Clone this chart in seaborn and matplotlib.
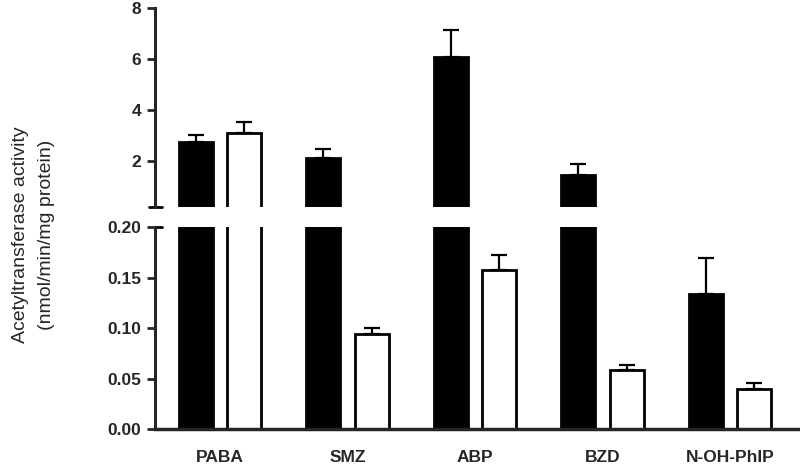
import matplotlib
matplotlib.use("Agg")
import matplotlib.pyplot as plt
import seaborn as sns
import pandas as pd

substrates = ["PABA", "SMZ", "ABP", "BZD", "N-OH-PhIP"]
filled_mean = [2.75, 2.12, 6.08, 1.45, 0.134]
filled_err = [0.27, 0.35, 1.06, 0.43, 0.035]
open_mean = [3.10, 0.094, 0.157, 0.058, 0.040]
open_err = [0.43, 0.006, 0.015, 0.005, 0.006]

df = pd.DataFrame({
    "substrate": substrates * 2,
    "group": ["filled"] * 5 + ["open"] * 5,
    "activity": filled_mean + open_mean,
    "err": filled_err + open_err,
})

sns.set_style("ticks")
plt.rcParams["font.family"] = ["Liberation Sans", "DejaVu Sans"]

fig = plt.figure(figsize=(8, 4.7), dpi=100)
ax_top = fig.add_axes([0.194, 0.5596, 0.806, 0.4234])
ax_bot = fig.add_axes([0.194, 0.0872, 0.806, 0.4298], sharex=ax_top)
ax_top.set_ylim(0.2, 8)
ax_bot.set_ylim(0, 0.2)

palette = {"filled": "black", "open": "white"}
for ax in (ax_top, ax_bot):
    lo, hi = ax.get_ylim()
    sns.barplot(data=df, x="substrate", y="activity", hue="group",
                palette=palette, order=substrates, hue_order=["filled", "open"],
                width=0.76, gap=0.3, errorbar=None, edgecolor="black",
                linewidth=2, legend=False, ax=ax)
    # upper error bars only, drawn on the panel that holds the bar top
    for bar, (_, row) in zip(ax.patches, df.iterrows()):
        if not (lo <= row["activity"] <= hi):
            continue
        x = bar.get_x() + bar.get_width() / 2
        ax.errorbar(x, row["activity"], yerr=[[0], [row["err"]]], fmt="none",
                    ecolor="black", elinewidth=1.6, capsize=6, capthick=1.6,
                    zorder=1)

ax_top.set_ylim(0.2, 8)
ax_top.set_yticks([2, 4, 6, 8])
ax_bot.set_ylim(0, 0.2)
ax_bot.set_yticks([0, 0.05, 0.10, 0.15, 0.20])
ax_bot.set_yticklabels(["0.00", "0.05", "0.10", "0.15", "0.20"])
ax_bot.set_xlim(-0.51, 4.55)

for ax in (ax_top, ax_bot):
    for s in ("top", "right"):
        ax.spines[s].set_visible(False)
    ax.spines["left"].set_linewidth(2.2)
    ax.tick_params(axis="y", width=2, length=6, labelsize=12.5, pad=4)
    for lab in ax.get_yticklabels():
        lab.set_fontweight("bold")
    ax.set_ylabel("")
    ax.set_xlabel("")

ax_top.spines["bottom"].set_visible(False)
ax_top.tick_params(axis="x", bottom=False, labelbottom=False)
ax_bot.spines["bottom"].set_linewidth(2.5)
ax_bot.tick_params(axis="x", length=0, labelsize=12.5, pad=15)
for lab in ax_bot.get_xticklabels():
    lab.set_fontweight("bold")

# break marks
ax_top.plot([-0.01, 0.01], [0, 0], transform=ax_top.transAxes, color="black",
            lw=2, clip_on=False)
ax_bot.plot([0, 0.01], [1, 1], transform=ax_bot.transAxes, color="black",
            lw=2, clip_on=False)

fig.text(0.042, 0.50, "Acetyltransferase activity\n(nmol/min/mg protein)",
         rotation=90, ha="center", va="center", fontsize=14, linespacing=1.7)

fig.savefig("out.png", dpi=100)
